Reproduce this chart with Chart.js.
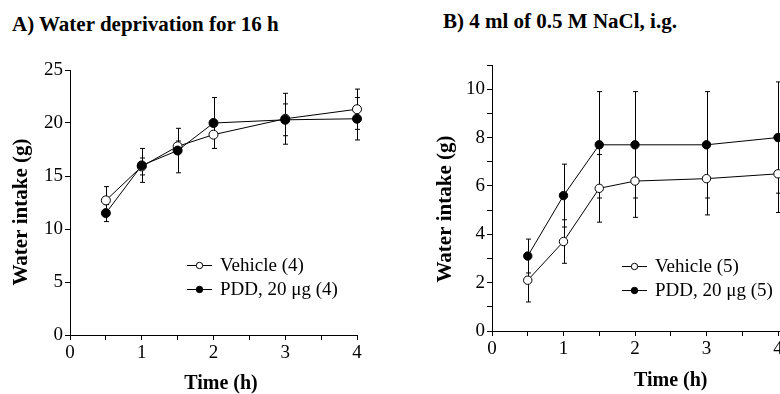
<!DOCTYPE html>
<html>
<head>
<meta charset="utf-8">
<script src="https://cdn.jsdelivr.net/npm/chart.js@4.4.1/dist/chart.umd.min.js"></script>
<style>
  body { margin: 0; width: 780px; height: 394px; overflow: hidden; background: #fff; position: relative; font-family: 'Liberation Serif', 'Times New Roman', serif; }
  .panel-title { position: absolute; font-weight: bold; font-size: 21px; line-height: 21px; white-space: nowrap; color: #000; }
  canvas { position: absolute; top: 0; }
</style>
</head>
<body>
<div class="panel-title" style="left:12px; top:14px">A) Water deprivation for 16 h</div>
<div class="panel-title" style="left:443px; top:11px">B) 4 ml of 0.5 M NaCl, i.g.</div>
<canvas id="chartA" width="380" height="394" style="left:0"></canvas>
<canvas id="chartB" width="460" height="394" style="left:400px"></canvas>
<script>
// Data
const times = [0.5, 1, 1.5, 2, 3, 4];

// A) water deprivation
const vehicleA = [12.7, 15.9, 17.8, 18.9, 20.4, 21.3];
const vehicleSemA = [1.3, 0.8, 0.5, 1.3, 2.4, 1.9];
const pddA = [11.5, 16.0, 17.4, 20.0, 20.3, 20.4];
const pddSemA = [0.8, 1.6, 2.1, 2.4, 1.5, 2.0];

// B) hypertonic NaCl
const vehicleB = [2.1, 3.7, 5.9, 6.2, 6.3, 6.5];
const vehicleSemB = [0.9, 0.9, 1.4, 1.5, 1.5, 1.6];
const pddB = [3.1, 5.6, 7.7, 7.7, 7.7, 8.0];
const pddSemB = [0.7, 1.3, 2.2, 2.2, 2.2, 2.3];

// tick labels
const xLabels = [0, 1, 2, 3, 4];
const yLabelsA = [0, 5, 10, 15, 20, 25];
const yLabelsB = [0, 2, 4, 6, 8, 10];
const legendA = ['Vehicle (4)', 'PDD, 20 μg (4)'];
const legendB = ['Vehicle (5)', 'PDD, 20 μg (5)'];
const xTitle = 'Time (h)';
const yTitle = 'Water intake (g)';

const FONT = "'Liberation Serif', 'Times New Roman', serif";
Chart.defaults.font.family = FONT;
Chart.defaults.color = '#000';

const toPoints = (xs, ys) => xs.map((x, i) => ({ x: x, y: ys[i] }));

// vertical error bars (mean +/- SEM) drawn under the markers
const errorBars = {
  id: 'errorBars',
  beforeDatasetsDraw(chart) {
    const { ctx } = chart;
    const y = chart.scales.y;
    ctx.save();
    ctx.strokeStyle = '#000';
    ctx.lineWidth = 1;
    chart.data.datasets.forEach((ds, i) => {
      const meta = chart.getDatasetMeta(i);
      meta.data.forEach((pt, j) => {
        const v = ds.data[j].y, e = ds.sem[j];
        const top = y.getPixelForValue(v + e);
        const bot = y.getPixelForValue(v - e);
        const x = Math.round(pt.x) + 0.5;
        ctx.beginPath();
        ctx.moveTo(x, top); ctx.lineTo(x, bot);
        ctx.moveTo(x - 2.5, top); ctx.lineTo(x + 2.5, top);
        ctx.moveTo(x - 2.5, bot); ctx.lineTo(x + 2.5, bot);
        ctx.stroke();
      });
    });
    ctx.restore();
  }
};

// legend inside the plot: -o- Vehicle / -●- PDD
const inlineLegend = {
  id: 'inlineLegend',
  afterDraw(chart, args, opts) {
    const { ctx, chartArea } = chart;
    const x0 = chartArea.left + opts.dx;
    let yy = chartArea.top + opts.dy;
    ctx.save();
    ctx.font = '19px ' + FONT;
    ctx.textBaseline = 'middle';
    ctx.strokeStyle = '#000';
    ctx.lineWidth = 1;
    opts.items.forEach((item) => {
      ctx.beginPath();
      ctx.moveTo(x0, yy + 0.5);
      ctx.lineTo(x0 + 25, yy + 0.5);
      ctx.stroke();
      ctx.beginPath();
      ctx.arc(x0 + 12.5, yy + 0.5, 3.2, 0, Math.PI * 2);
      ctx.fillStyle = item.fill;
      ctx.fill();
      ctx.stroke();
      ctx.fillStyle = '#000';
      ctx.fillText(item.text, x0 + 33, yy + 1);
      yy += 24;
    });
    ctx.restore();
  }
};

// axis titles, placed relative to the chart area
const axisTitles = {
  id: 'axisTitles',
  afterDraw(chart, args, opts) {
    const { ctx, chartArea: a } = chart;
    ctx.save();
    ctx.fillStyle = '#000';
    ctx.textAlign = 'center';
    ctx.textBaseline = 'middle';
    ctx.font = 'bold 20px ' + FONT;
    ctx.fillText(xTitle, (a.left + a.right) / 2 + opts.xdx, a.bottom + opts.xdy);
    ctx.font = 'bold 21px ' + FONT;
    ctx.translate(a.left + opts.ydx, (a.top + a.bottom) / 2 + opts.ydy);
    ctx.rotate(-Math.PI / 2);
    ctx.fillText(yTitle, 0, 0);
    ctx.restore();
  }
};

function makeChart(id, c) {
  const line = { borderColor: '#000', borderWidth: 1, pointRadius: c.r, pointBorderColor: '#000',
    pointBorderWidth: 1, pointHoverRadius: c.r, fill: false, tension: 0, clip: false };
  return new Chart(document.getElementById(id), {
    type: 'line',
    data: {
      datasets: [
        Object.assign({ label: c.legend[1], data: toPoints(times, c.pdd), sem: c.pddSem, pointBackgroundColor: '#000' }, line),
        Object.assign({ label: c.legend[0], data: toPoints(times, c.vehicle), sem: c.vehicleSem, pointBackgroundColor: '#fff' }, line)
      ]
    },
    options: {
      responsive: false,
      animation: false,
      events: [],
      layout: { padding: c.padding },
      plugins: {
        legend: { display: false },
        tooltip: { enabled: false },
        inlineLegend: {
          dx: c.legendDx, dy: c.legendDy,
          items: [{ text: c.legend[0], fill: '#fff' }, { text: c.legend[1], fill: '#000' }]
        },
        axisTitles: c.titles
      },
      scales: {
        x: {
          type: 'linear', min: 0, max: c.xMax,
          afterFit: (s) => { s.height = c.xHeight; },
          ticks: { stepSize: 0.5, autoSkip: false, maxRotation: 0, padding: 2, font: { size: 19 },
            callback: (v) => xLabels.includes(v) ? v : '' },
          grid: { drawOnChartArea: false, color: '#000', tickColor: '#000', tickLength: 5 },
          border: { color: '#000', width: 1 }
        },
        y: {
          min: 0, max: c.yMax,
          afterFit: (s) => { s.width = c.yWidth; },
          ticks: { stepSize: c.yStep, autoSkip: false, padding: 2, font: { size: 19 },
            callback: (v) => c.yLabels.includes(v) ? v : '' },
          grid: { drawOnChartArea: false, color: '#000', tickColor: '#000', tickLength: 5 },
          border: { color: '#000', width: 1 }
        }
      }
    },
    plugins: [errorBars, inlineLegend, axisTitles]
  });
}

makeChart('chartA', {
  vehicle: vehicleA, vehicleSem: vehicleSemA, pdd: pddA, pddSem: pddSemA, legend: legendA,
  r: 4.5, xMax: 4, yMax: 25, yStep: 5, yLabels: yLabelsA,
  padding: { left: 10, top: 70, right: 23, bottom: 0 }, yWidth: 60, xHeight: 59,
  legendDx: 117, legendDy: 195,
  titles: { xdx: 7.5, xdy: 49, ydx: -48, ydy: 9.5 }
});

makeChart('chartB', {
  vehicle: vehicleB, vehicleSem: vehicleSemB, pdd: pddB, pddSem: pddSemB, legend: legendB,
  r: 4.2, xMax: 5, yMax: 11, yStep: 1, yLabels: yLabelsB,
  padding: { left: 34, top: 65, right: 10.5, bottom: 0 }, yWidth: 58, xHeight: 63,
  legendDx: 130, legendDy: 201,
  titles: { xdx: 0, xdy: 50, ydx: -46, ydy: 11 }
});
</script>
</body>
</html>
